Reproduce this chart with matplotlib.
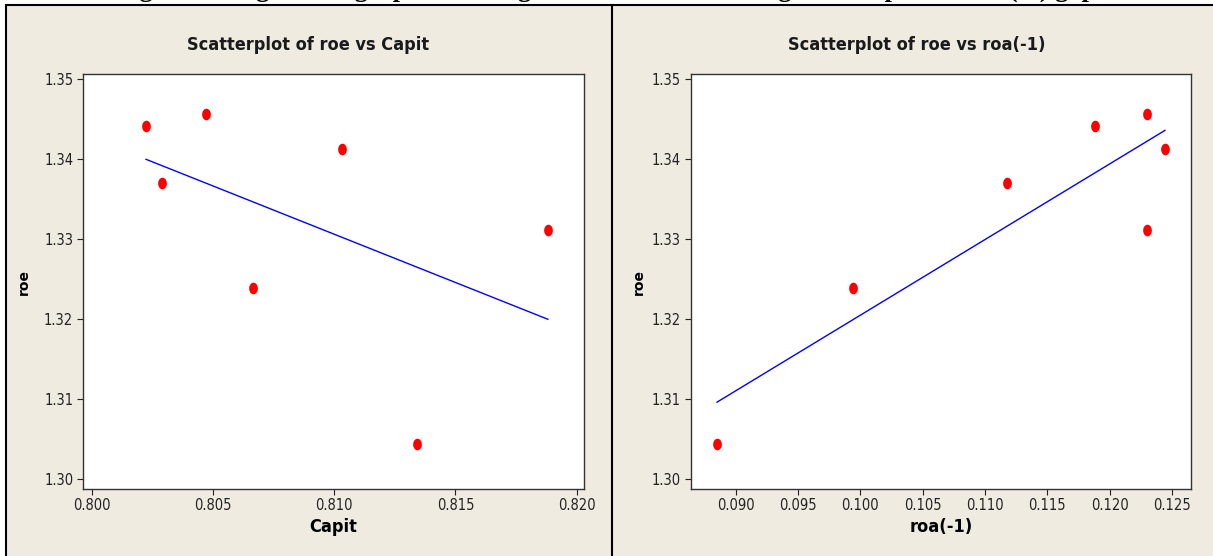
import matplotlib.pyplot as plt
import numpy as np
from matplotlib.patches import Rectangle
from matplotlib.ticker import FormatStrFormatter

# values
roe = [1.3442, 1.3370, 1.3457, 1.3239, 1.3413, 1.3044, 1.3312]
capit = [0.80224, 0.80290, 0.80471, 0.80665, 0.81032, 0.81341, 0.81881]
roa_lag = [0.11882, 0.11176, 0.12299, 0.09941, 0.12443, 0.08850, 0.12299]

capit_ticks = [0.800, 0.805, 0.810, 0.815, 0.820]
roa_ticks = [0.090, 0.095, 0.100, 0.105, 0.110, 0.115, 0.120, 0.125]
roe_ticks = [1.30, 1.31, 1.32, 1.33, 1.34, 1.35]

W, H = 1213, 556
bg = '#EFEBE1'
font = ['DejaVu Sans']

fig = plt.figure(figsize=(W / 100, H / 100), dpi=100, facecolor='white')

# beige panels with black frame
fig.patches.append(Rectangle((6 / W, -0.01), 1.0, 1 - 5 / H + 0.01, transform=fig.transFigure,
                             facecolor=bg, edgecolor='black', linewidth=1.5, zorder=-2))
fig.add_artist(plt.Line2D([612 / W, 612 / W], [0, 1 - 5 / H], transform=fig.transFigure,
                          color='black', linewidth=1.5))

# clipped heading above the panels, only descenders show
fig.text(0.5, 1 + 3 / H, 'Figure 4: Regression graphs showing the fitted line of roe against Capit and roa(-1) gap',
         ha='center', va='baseline', fontsize=19, fontweight='bold', family='Liberation Serif',
         zorder=-3)

# ellipse shaped marker, a bit taller than wide
t = np.linspace(0, 2 * np.pi, 30)
dot = list(zip(0.75 * np.cos(t), np.sin(t)))


def panel(rect, x, y, xlim, xticks, xlabel, title, ylab_x, title_x):
    ax = fig.add_axes(rect)
    ax.set_facecolor('white')
    ax.scatter(x, y, color='red', marker=dot, s=70, zorder=3, linewidths=0)
    k, b = np.polyfit(x, y, 1)
    xs = np.array([min(x), max(x)])
    ax.plot(xs, k * xs + b, color='blue', linewidth=1.0)
    ax.set_xlim(*xlim)
    ax.set_ylim(1.29874, 1.35063)
    ax.set_xticks(xticks)
    ax.set_yticks(roe_ticks)
    ax.xaxis.set_major_formatter(FormatStrFormatter('%.3f'))
    ax.yaxis.set_major_formatter(FormatStrFormatter('%.2f'))
    ax.tick_params(direction='out', length=4, width=0.8, labelsize=10.5, colors='#222222',
                   pad=3)
    ax.tick_params(axis='x', pad=2)
    for lbl in ax.get_xticklabels() + ax.get_yticklabels():
        lbl.set_family(font)
        lbl.set_fontstretch('condensed')
    for s in ax.spines.values():
        s.set_color('#333333')
        s.set_linewidth(1.0)
    ax.set_xlabel(xlabel, fontsize=13, fontweight='bold', family=font, fontstretch='condensed',
                  labelpad=4)
    ax.set_ylabel('roe', fontsize=10, fontweight='bold', family='DejaVu Sans')
    ax.yaxis.set_label_coords(ylab_x, 0.5)
    fig.text(title_x, 1 - 45 / H, title, ha='center', va='center', fontsize=13,
             fontweight='bold', family=font, fontstretch='condensed', color='#1a1a1a')
    return ax


bottom = (H - 489.4) / H
height = (489.4 - 74.3) / H
panel([83 / W, bottom, (584 - 83) / W, height], capit, roe, (0.79964, 0.82030),
      capit_ticks, 'Capit', 'Scatterplot of roe vs Capit', -0.104, 308 / W)
panel([690.7 / W, bottom, (1191 - 690.7) / W, height], roa_lag, roe, (0.08639, 0.12652),
      roa_ticks, 'roa(-1)', 'Scatterplot of roe vs roa(-1)', -0.089, 917 / W)

fig.savefig('out.png', dpi=100, facecolor='white')
